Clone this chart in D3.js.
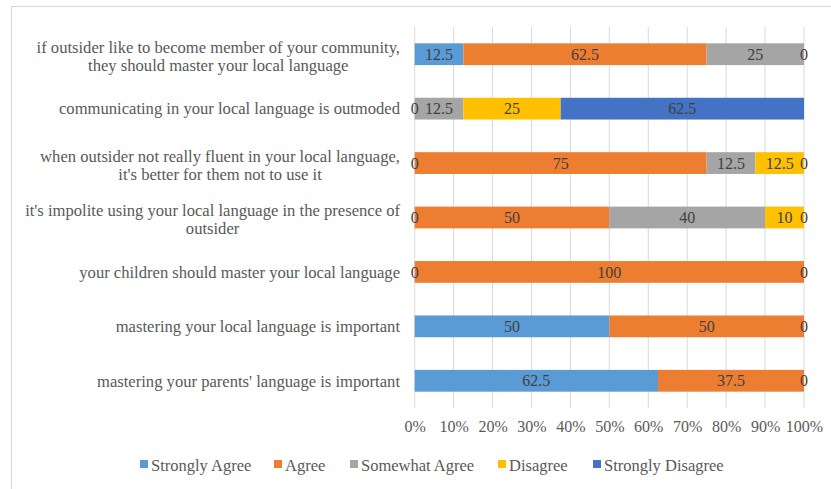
<!DOCTYPE html>
<html>
<head>
<meta charset="utf-8">
<script src="https://cdn.jsdelivr.net/npm/d3@7"></script>
<style>
  html, body { margin: 0; padding: 0; background: #fff; }
  svg { display: block; }
  text { font-family: "Liberation Serif", "DejaVu Serif", serif; }
</style>
</head>
<body>
<svg id="chart" width="831" height="489"></svg>
<script>
// Survey statements (top to bottom), each label split into its lines
const statements = [
  ["if outsider like to become member of your community,", "they should master your local language"],
  ["communicating in your local language is outmoded"],
  ["when outsider not really fluent in your local language,", "it's better for them not to use it"],
  ["it's impolite using your local language in the presence of", "outsider"],
  ["your children should master your local language"],
  ["mastering your local language is important"],
  ["mastering your parents' language is important"]
];

const seriesNames = ["Strongly Agree", "Agree", "Somewhat Agree", "Disagree", "Strongly Disagree"];
const seriesColors = ["#5B9BD5", "#ED7D31", "#A5A5A5", "#FFC000", "#4472C4"];

// Percent of respondents per answer, in statement order
const stronglyAgree    = [12.5, 0,    0,    0,   0,   50, 62.5];
const agree            = [62.5, 0,    75,   50,  100, 50, 37.5];
const somewhatAgree    = [25,   12.5, 12.5, 40,  0,   0,  0];
const disagree         = [0,    25,   12.5, 10,  0,   0,  0];
const stronglyDisagree = [0,    62.5, 0,    0,   0,   0,  0];

const tickValues = [0, 0.1, 0.2, 0.3, 0.4, 0.5, 0.6, 0.7, 0.8, 0.9, 1.0];

const seriesValues = [stronglyAgree, agree, somewhatAgree, disagree, stronglyDisagree];
const rows = statements.map((s, i) => {
  const r = { id: i };
  seriesNames.forEach((n, k) => { r[n] = seriesValues[k][i]; });
  return r;
});

const svg = d3.select("#chart");

// chart frame
svg.append("rect")
  .attr("x", 11.5).attr("y", 6.5)
  .attr("width", 840).attr("height", 500)
  .attr("fill", "#fff")
  .attr("stroke", "#d9d9d9").attr("stroke-width", 1.2);

const x = d3.scaleLinear().domain([0, 1]).range([414.7, 804]);
const y = d3.scaleBand().domain(rows.map(r => r.id)).range([27, 408]).paddingInner(0.6).paddingOuter(0.3);

// vertical gridlines
svg.append("g")
  .selectAll("line")
  .data(tickValues)
  .join("line")
  .attr("x1", d => x(d)).attr("x2", d => x(d))
  .attr("y1", 27).attr("y2", 408)
  .attr("stroke", "#d9d9d9").attr("stroke-width", 1);

// percentage axis labels
const xAxis = d3.axisBottom(x).tickValues(tickValues).tickFormat(d3.format(".0%")).tickSize(0).tickPadding(0);
const axisG = svg.append("g").attr("transform", "translate(0,421)").call(xAxis);
axisG.select(".domain").remove();
axisG.selectAll("text")
  .attr("fill", "#595959")
  .style("font-family", '"Liberation Serif", serif')
  .style("font-size", "16px");

// stacked segments
const stack = d3.stack().keys(seriesNames).value((r, k) => r[k] / 100);
const stacked = stack(rows);

const layers = svg.append("g").selectAll("g")
  .data(stacked)
  .join("g")
  .attr("fill", (d, i) => seriesColors[i]);

layers.selectAll("rect")
  .data(d => d)
  .join("rect")
  .attr("x", d => x(d[0]))
  .attr("y", d => y(d.data.id))
  .attr("width", d => x(d[1]) - x(d[0]))
  .attr("height", y.bandwidth());

// value labels, one per distinct position within a row
const labelG = svg.append("g");
rows.forEach((r, i) => {
  const used = new Set();
  stacked.forEach((layer, k) => {
    const seg = layer[i];
    const cx = (x(seg[0]) + x(seg[1])) / 2;
    const key = cx.toFixed(1);
    if (used.has(key)) return;
    used.add(key);
    labelG.append("text")
      .attr("x", cx)
      .attr("y", y(r.id) + y.bandwidth() / 2)
      .attr("dy", "0.35em")
      .attr("text-anchor", "middle")
      .attr("fill", "#404040")
      .style("font-size", "16px")
      .text(r[seriesNames[k]]);
  });
});

// statement labels: right-aligned block, lines centred on each other
const catG = svg.append("g");
statements.forEach((lines, i) => {
  const cy = y(i) + y.bandwidth() / 2;
  const lh = 18;
  const g = catG.append("g");
  const texts = lines.map((ln, j) => g.append("text")
    .attr("y", cy + (j - (lines.length - 1) / 2) * lh + (lines.length > 1 ? 2 : 0))
    .attr("dy", "0.35em")
    .attr("fill", "#595959")
    .style("font-size", "16.6px")
    .text(ln));
  const widths = texts.map(t => t.node().getComputedTextLength());
  const maxW = d3.max(widths);
  const center = 400 - maxW / 2;
  texts.forEach(t => t.attr("x", center).attr("text-anchor", "middle"));
});

// legend
const legendX = [140, 274, 350, 498, 593];
const legend = svg.append("g");
seriesNames.forEach((n, k) => {
  legend.append("rect")
    .attr("x", legendX[k]).attr("y", 460)
    .attr("width", 8).attr("height", 8)
    .attr("fill", seriesColors[k]);
  legend.append("text")
    .attr("x", legendX[k] + 11).attr("y", 465)
    .attr("dy", "0.35em")
    .attr("fill", "#595959")
    .style("font-size", "16.5px")
    .text(n);
});
</script>
</body>
</html>
